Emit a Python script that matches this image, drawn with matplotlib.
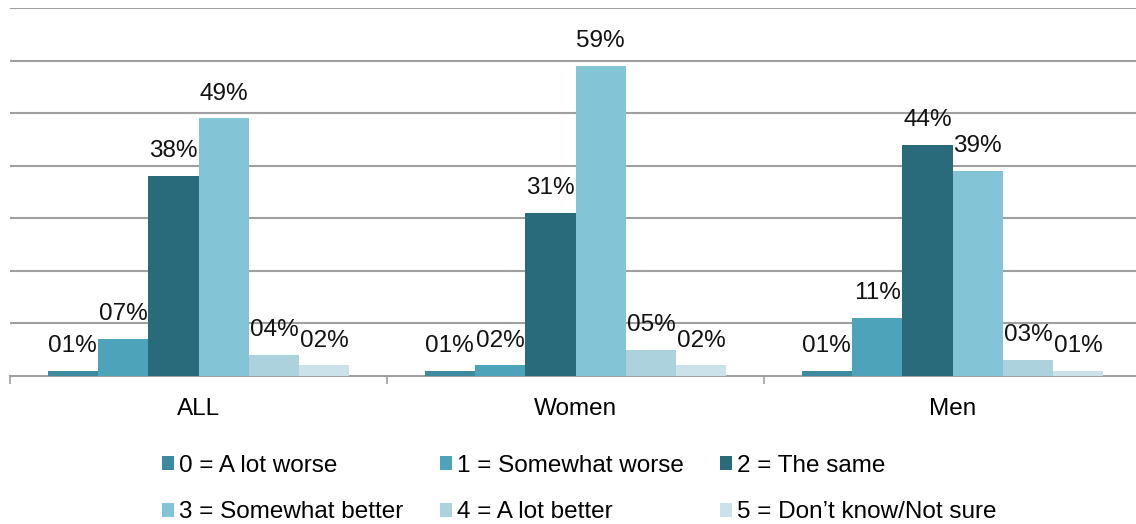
import numpy as np
import matplotlib.pyplot as plt

plt.rcParams['font.family'] = ['Liberation Sans', 'DejaVu Sans']

groups = ['ALL', 'Women', 'Men']
series = ['0 = A lot worse', '1 = Somewhat worse', '2 = The same',
          '3 = Somewhat better', '4 = A lot better', '5 = Don\u2019t know/Not sure']
values = [
    [1, 1, 1],      # A lot worse
    [7, 2, 11],     # Somewhat worse
    [38, 31, 44],   # The same
    [49, 59, 39],   # Somewhat better
    [4, 5, 3],      # A lot better
    [2, 2, 1],      # Don't know
]
colors = ['#3d8a9e', '#4da3ba', '#2a6b7b', '#83c4d7', '#acd2de', '#cce2ea']

fs = 17.5
fig = plt.figure(figsize=(11.36, 5.24), dpi=100)
ax = fig.add_axes([10/1136, 1-376/524, (1141-10)/1136, (376-8)/524])

x = np.arange(len(groups))
w = 0.8/len(series)
bars = []
for i, (name, vals) in enumerate(zip(series, values)):
    pos = x - 0.4 + w*(i+0.5)
    b = ax.bar(pos, vals, w, color=colors[i], label=name, zorder=3)
    bars.append(b)
    for p, v in zip(pos, vals):
        ax.annotate('%02d%%' % v, (p, v), xytext=(0, 13.5), textcoords='offset points',
                    ha='center', va='baseline', fontsize=fs, color='#111111', zorder=4)

ax.set_xlim(-0.5, 2.5)
ax.set_ylim(0, 70)
ax.set_yticks(np.arange(10, 71, 10))
ax.yaxis.grid(True, color='#a0a0a0', linewidth=1.5, zorder=0)
ax.tick_params(axis='y', left=False, labelleft=False)

ax.set_xticks(x)
ax.set_xticklabels(groups, fontsize=fs)
ax.tick_params(axis='x', length=0, pad=16)
ax.set_xticks([-0.5, 0.5, 1.5, 2.5], minor=True)
ax.tick_params(axis='x', which='minor', length=6, width=1.2, color='#a0a0a0')

for s in ['top', 'right', 'left']:
    ax.spines[s].set_visible(False)
ax.spines['bottom'].set_color('#a0a0a0')
ax.spines['bottom'].set_linewidth(1.5)

order = [0, 3, 1, 4, 2, 5]
handles = [bars[i] for i in order]
labels = [series[i] for i in order]
fig.legend(handles, labels, ncol=3, loc='upper left', bbox_to_anchor=(162/1136, 1-455/524),
           frameon=False, fontsize=fs, handlelength=0.5, handleheight=0.5,
           handletextpad=0.2, columnspacing=1.5, labelspacing=1.0,
           borderpad=0, borderaxespad=0)

fig.savefig('out.png', dpi=100)
